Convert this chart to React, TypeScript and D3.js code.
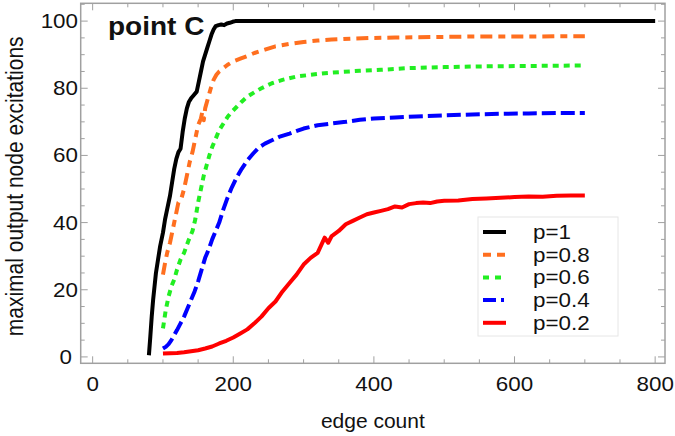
import React from "react";
import * as d3 from "d3";

// ---- data ----
const p1X = [80, 82, 84, 86, 88, 90, 93, 96, 100, 103, 106, 110, 113, 116, 119, 122, 125, 128, 131, 134, 137, 140, 144, 148, 151, 154, 157, 160, 163, 166, 169, 172, 175, 179, 183, 187, 191, 195, 199, 203, 207, 800];
const p1Y = [0.5, 6, 12, 17, 21, 25, 29, 33, 37, 41, 44, 48, 52, 56, 59, 61, 62, 67, 71, 74, 76, 77, 78, 79, 82, 85, 88, 90, 92, 94, 96, 97.5, 98.5, 98.8, 99, 98.8, 99.3, 99.5, 99.8, 100, 100, 100];

const p08X = [100, 103, 106, 110, 114, 118, 122, 126, 130, 134, 138, 142, 146, 150, 154, 156, 158, 160, 164, 168, 172, 176, 180, 186, 192, 200, 210, 220, 230, 245, 260, 280, 300, 320, 340, 370, 400, 430, 460, 500, 540, 580, 620, 660, 700];
const p08Y = [24.5, 28, 31, 34, 38, 42, 46, 47, 50, 54, 58, 61, 65, 69, 71, 73, 70.5, 74, 77, 80, 82.5, 84, 85, 86, 87, 88, 88.8, 89.6, 90.5, 91.5, 92.5, 93.2, 93.8, 94.2, 94.5, 94.8, 95, 95.1, 95.2, 95.3, 95.4, 95.4, 95.4, 95.5, 95.5];

const p06X = [100, 104, 108, 112, 116, 120, 125, 130, 136, 142, 146, 150, 154, 158, 162, 166, 170, 175, 180, 186, 192, 198, 205, 212, 220, 230, 240, 255, 270, 290, 310, 330, 350, 380, 410, 450, 500, 550, 600, 650, 700];
const p06Y = [8.5, 14, 18, 21, 23, 26, 29, 31, 34.5, 37.5, 41, 46, 50, 54, 57, 60, 62.5, 65, 67.5, 69.5, 71.5, 73, 74.5, 76, 77.5, 78.8, 80, 81.5, 82.5, 83.5, 84, 84.5, 84.8, 85.2, 85.5, 86, 86.3, 86.5, 86.6, 86.7, 86.8];

const p04X = [100, 104, 108, 112, 116, 120, 125, 130, 135, 140, 145, 150, 155, 160, 165, 170, 175, 180, 186, 192, 198, 205, 212, 220, 228, 236, 245, 255, 265, 280, 300, 320, 340, 360, 380, 400, 430, 460, 500, 540, 580, 620, 660, 700];
const p04Y = [2.5, 3, 3.8, 5, 6.5, 8, 10, 12, 14.5, 17, 19.5, 22.5, 26, 29.5, 32, 35, 37.5, 40, 44, 47.5, 50.5, 53.5, 56, 58.5, 60.5, 62.3, 63.5, 64.5, 65.5, 66.5, 68, 69, 69.5, 70, 70.6, 71, 71.3, 71.6, 71.9, 72.2, 72.4, 72.5, 72.6, 72.6];

const p02X = [100, 110, 120, 130, 140, 150, 160, 170, 180, 190, 200, 210, 220, 230, 240, 250, 260, 270, 280, 290, 300, 310, 320, 330, 335, 340, 350, 360, 370, 380, 390, 400, 410, 420, 430, 440, 450, 460, 470, 480, 490, 500, 520, 540, 560, 580, 600, 620, 640, 660, 680, 700];
const p02Y = [1, 1.1, 1.2, 1.4, 1.7, 2, 2.5, 3.1, 4, 4.8, 5.8, 7, 8.2, 10, 12, 14.5, 16.5, 19.5, 22, 24.5, 27.5, 29.5, 31, 35.5, 34, 36, 37.5, 39.5, 40.5, 41.5, 42.5, 43, 43.5, 44, 44.8, 44.5, 45.5, 45.8, 46, 45.8, 46.3, 46.5, 46.6, 47, 47.2, 47.4, 47.6, 47.8, 47.7, 48, 48.1, 48.1];

const seriesLabels = ["p=1", "p=0.8", "p=0.6", "p=0.4", "p=0.2"];
const xTicks = [0, 200, 400, 600, 800];
const yTicks = [0, 20, 40, 60, 80, 100];
const xLabel = "edge count";
const yLabel = "maximal output node excitations";
const annotation = "point C";

// ---- styles ----
const seriesData = [
  { xs: p1X, ys: p1Y, color: "#000000", dash: "", legendDash: "" },
  { xs: p08X, ys: p08Y, color: "#ff6f1f", dash: "12,6,7,6", legendDash: "8,6" },
  { xs: p06X, ys: p06Y, color: "#22ee22", dash: "6,5", legendDash: "6,6" },
  { xs: p04X, ys: p04Y, color: "#0000ff", dash: "14,5", legendDash: "13,5,3,40" },
  { xs: p02X, ys: p02Y, color: "#ff0000", dash: "", legendDash: "" },
];

const FONT = "'Liberation Sans', Arial, sans-serif";
const FRAME = "#a0a0a0";
const SX = 1.12;

function HText(props: { x: number; y: number; anchor?: string; size: number; weight?: string; children: React.ReactNode }) {
  return (
    <text
      transform={`translate(${props.x},${props.y}) scale(${SX},1)`}
      textAnchor={props.anchor || "start"}
      fontSize={props.size}
      fontWeight={props.weight || "normal"}
      fill="#111"
    >
      {props.children}
    </text>
  );
}

export default function App() {
  const W = 675, H = 436;
  const L = 80.7, R = 665, T = 3.3, B = 363.3;
  const x = d3.scaleLinear().domain([-17, 814]).range([L, R]);
  const y = d3.scaleLinear().domain([-1.9, 105.3]).range([B, T]);

  const line = d3.line<[number, number]>().x(d => x(d[0])).y(d => y(d[1]));

  const xMinor = d3.range(0, 801, 50);
  const yMinor = d3.range(0, 106, 5);

  const legX = 478, legY = 217, legW = 140, legH = 119;
  const rowH = 22.7;

  return (
    <svg width={W} height={H} style={{ position: "absolute", left: 0, top: 0 }} fontFamily={FONT}>
      <rect x={0} y={0} width={W} height={H} fill="#ffffff" />
      {/* ticks */}
      <g stroke={FRAME} strokeWidth={1}>
        {xMinor.map(v => {
          const len = v % 200 === 0 ? 7 : 4;
          return (
            <g key={"xt" + v}>
              <line x1={x(v)} x2={x(v)} y1={B} y2={B - len} />
              <line x1={x(v)} x2={x(v)} y1={T} y2={T + len} />
            </g>
          );
        })}
        {yMinor.map(v => {
          const len = v % 20 === 0 ? 7 : 4;
          return (
            <g key={"yt" + v}>
              <line x1={L} x2={L + len} y1={y(v)} y2={y(v)} />
              <line x1={R} x2={R - len} y1={y(v)} y2={y(v)} />
            </g>
          );
        })}
      </g>
      {/* series */}
      <g fill="none">
        {seriesData.slice().reverse().map((s, i) => (
          <path
            key={"s" + i}
            d={line(s.xs.map((v, j) => [v, s.ys[j]] as [number, number])) || ""}
            stroke={s.color}
            strokeWidth={4}
            strokeDasharray={s.dash || undefined}
            strokeLinejoin="round"
          />
        ))}
      </g>
      {/* frame */}
      <rect x={L} y={T} width={R - L} height={B - T} fill="none" stroke={FRAME} strokeWidth={1.5} />
      {/* tick labels */}
      {xTicks.map(v => (
        <HText key={"xl" + v} x={x(v)} y={391} anchor="middle" size={20}>{v}</HText>
      ))}
      {yTicks.map(v => (
        <HText key={"yl" + v} x={v === 0 ? 72 : 78} y={y(v) + 7} anchor="end" size={20}>{v}</HText>
      ))}
      <text x={(L + R) / 2} y={428} textAnchor="middle" fontSize={21} fill="#111">{xLabel}</text>
      <text transform={`translate(23, ${(T + B) / 2 + 3}) rotate(-90) scale(1,${SX})`} textAnchor="middle" fontSize={21} fill="#111">{yLabel}</text>
      <HText x={108} y={35} size={25} weight="bold">{annotation}</HText>
      {/* legend */}
      <rect x={legX} y={legY} width={legW} height={legH} fill="#ffffff" stroke="#e6e6e6" strokeWidth={1} />
      {seriesData.map((s, i) => {
        const cy = legY + 15 + i * rowH;
        return (
          <g key={"lg" + i}>
            <line x1={legX + 5} x2={legX + 28} y1={cy} y2={cy} stroke={s.color} strokeWidth={4} strokeDasharray={s.legendDash || undefined} />
            <HText x={legX + 55} y={cy + 7} size={20}>{seriesLabels[i]}</HText>
          </g>
        );
      })}
    </svg>
  );
}
